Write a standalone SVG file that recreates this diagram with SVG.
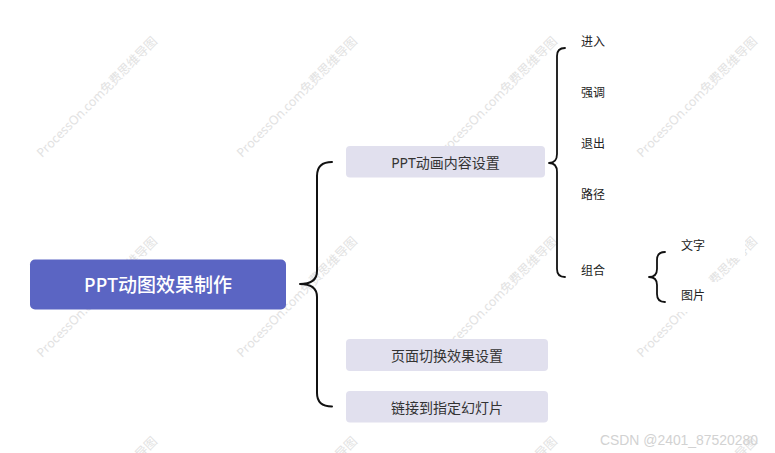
<svg xmlns="http://www.w3.org/2000/svg" width="775" height="453" viewBox="0 0 775 453">
<style>
.wm{font-family:"Noto Sans","Noto Sans CJK SC",sans-serif;font-size:12.5px;fill:#e2e2e2}
.csdn{font-family:"Liberation Sans","Noto Sans",sans-serif;font-size:14px;fill:#d2d2d2}
.br{fill:none;stroke:#111;stroke-width:2;stroke-linecap:round;stroke-linejoin:round}
.br2{fill:none;stroke:#111;stroke-width:1.8;stroke-linecap:round;stroke-linejoin:round}
.root{fill:#5B65C3}
.rootT{font-family:"Noto Sans","Noto Sans CJK SC",sans-serif;font-size:19px;font-weight:500;fill:#fff}
.sub{fill:#E1E0EE}
.subT{font-family:"Noto Sans","Noto Sans CJK SC",sans-serif;font-size:14px;fill:#333}
.leafBg{fill:#fff}
.leafT{font-family:"Noto Sans","Noto Sans CJK SC",sans-serif;font-size:12px;fill:#222}
</style>
<rect width="775" height="453" fill="#fff"/>
<g id="watermarks">
<text class="wm" transform="translate(42,158) rotate(-45)" textLength="164" lengthAdjust="spacingAndGlyphs">ProcessOn.com免费思维导图</text>
<text class="wm" transform="translate(242,158) rotate(-45)" textLength="164" lengthAdjust="spacingAndGlyphs">ProcessOn.com免费思维导图</text>
<text class="wm" transform="translate(442,158) rotate(-45)" textLength="164" lengthAdjust="spacingAndGlyphs">ProcessOn.com免费思维导图</text>
<text class="wm" transform="translate(642,158) rotate(-45)" textLength="164" lengthAdjust="spacingAndGlyphs">ProcessOn.com免费思维导图</text>
<text class="wm" transform="translate(42,358) rotate(-45)" textLength="164" lengthAdjust="spacingAndGlyphs">ProcessOn.com免费思维导图</text>
<text class="wm" transform="translate(242,358) rotate(-45)" textLength="164" lengthAdjust="spacingAndGlyphs">ProcessOn.com免费思维导图</text>
<text class="wm" transform="translate(442,358) rotate(-45)" textLength="164" lengthAdjust="spacingAndGlyphs">ProcessOn.com免费思维导图</text>
<text class="wm" transform="translate(642,358) rotate(-45)" textLength="164" lengthAdjust="spacingAndGlyphs">ProcessOn.com免费思维导图</text>
<text class="wm" transform="translate(42,558) rotate(-45)" textLength="164" lengthAdjust="spacingAndGlyphs">ProcessOn.com免费思维导图</text>
<text class="wm" transform="translate(242,558) rotate(-45)" textLength="164" lengthAdjust="spacingAndGlyphs">ProcessOn.com免费思维导图</text>
<text class="wm" transform="translate(442,558) rotate(-45)" textLength="164" lengthAdjust="spacingAndGlyphs">ProcessOn.com免费思维导图</text>
<text class="wm" transform="translate(642,558) rotate(-45)" textLength="164" lengthAdjust="spacingAndGlyphs">ProcessOn.com免费思维导图</text>
</g>
<g id="connectors">
<path class="br" d="M332,162 Q317,162 317,176 L317,271 Q317,284 300,284 Q317,284 317,297 L317,393 Q317,406.5 332,406.5"/>
<path class="br2" d="M565,48 Q557,48 557,56 L557,154 Q557,163 549,163 Q557,163 557,172 L557,269 Q557,277 565,277"/>
<path class="br2" d="M665,252 Q657,252 657,260 L657,269 Q657,277 649,277 Q657,277 657,285 L657,294 Q657,302 665,302"/>
</g>
<g id="root">
<rect class="root" x="30" y="259.5" width="256" height="50" rx="5"/>
<text class="rootT" x="158" y="284.5" text-anchor="middle" dominant-baseline="central">PPT动图效果制作</text>
</g>
<g id="n-content">
<rect class="sub" x="346" y="146" width="199" height="31.5" rx="4"/>
<text class="subT" x="445.5" y="162" text-anchor="middle" dominant-baseline="central">PPT动画内容设置</text>
</g>
<g id="n-switch">
<rect class="sub" x="346" y="339" width="202" height="32" rx="4"/>
<text class="subT" x="447" y="355" text-anchor="middle" dominant-baseline="central">页面切换效果设置</text>
</g>
<g id="n-link">
<rect class="sub" x="346" y="391" width="202" height="31.5" rx="4"/>
<text class="subT" x="447" y="407" text-anchor="middle" dominant-baseline="central">链接到指定幻灯片</text>
</g>
<g id="n-enter"><text class="leafT" x="581" y="41" dominant-baseline="central">进入</text></g>
<g id="n-emph"><text class="leafT" x="581" y="92" dominant-baseline="central">强调</text></g>
<g id="n-exit"><text class="leafT" x="581" y="143" dominant-baseline="central">退出</text></g>
<g id="n-path"><text class="leafT" x="581" y="194" dominant-baseline="central">路径</text></g>
<g id="n-combo"><text class="leafT" x="581" y="270.5" dominant-baseline="central">组合</text></g>
<g id="n-text">
<rect class="leafBg" x="677" y="232" width="68" height="26"/>
<text class="leafT" x="681" y="245" dominant-baseline="central">文字</text>
</g>
<g id="n-image">
<rect class="leafBg" x="677" y="282" width="68" height="30"/>
<text class="leafT" x="681" y="295" dominant-baseline="central">图片</text>
</g>
<text class="csdn" x="600" y="445" textLength="158" lengthAdjust="spacingAndGlyphs">CSDN @2401_87520280</text>
</svg>
